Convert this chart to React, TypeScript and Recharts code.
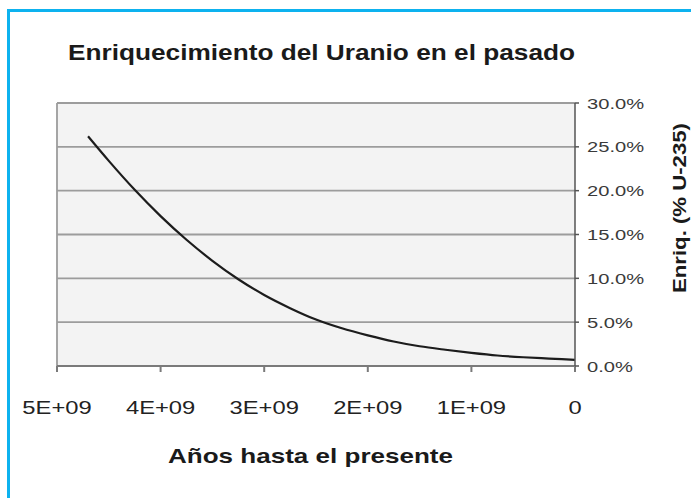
import React from "react"
import {
  LineChart,
  Line,
  XAxis,
  YAxis,
  CartesianGrid,
  ReferenceLine,
} from "recharts"

// años hasta el presente (en miles de millones) y enriquecimiento (% U-235)
const yearsAgo = [4.7, 4.5, 4.25, 4.0, 3.75, 3.5, 3.25, 3.0, 2.75, 2.5, 2.25, 2.0, 1.75, 1.5, 1.25, 1.0, 0.75, 0.5, 0.25, 0]
const enrichment = [26.2, 23.4, 20.1, 17.1, 14.4, 12.0, 9.9, 8.1, 6.6, 5.3, 4.3, 3.5, 2.8, 2.25, 1.85, 1.5, 1.2, 1.0, 0.85, 0.7]

const xTicks = [5e9, 4e9, 3e9, 2e9, 1e9, 0]
const xTickLabels = ["5E+09", "4E+09", "3E+09", "2E+09", "1E+09", "0"]
const yTicks = [0, 5, 10, 15, 20, 25, 30]

const title = "Enriquecimiento del Uranio en el pasado"
const xTitle = "Años hasta el presente"
const yTitle = "Enriq. (% U-235)"

const data = yearsAgo.map((y, i) => ({ years: y * 1e9, enr: enrichment[i] }))

const FONT = "'Liberation Sans', Arial, Helvetica, sans-serif"

function XTick(props: any) {
  const { x, y, payload } = props
  const idx = xTicks.indexOf(payload.value)
  return (
    <g transform={`translate(${x},${y}) scale(1.25,1)`}>
      <text x={0} y={0} dy={42} textAnchor="middle" fontSize={19} fill="#222" fontFamily={FONT}>
        {idx >= 0 ? xTickLabels[idx] : payload.value}
      </text>
    </g>
  )
}

function YTick(props: any) {
  const { x, y, payload } = props
  return (
    <g transform={`translate(${x + 8},${y}) scale(1.3,1)`}>
      <text x={0} y={0} dy="0.36em" textAnchor="start" fontSize={15.5} fill="#3a3a3a" fontFamily={FONT}>
        {`${payload.value.toFixed(1)}%`}
      </text>
    </g>
  )
}

export default function App() {
  return (
    <div style={{ position: "absolute", left: 0, top: 0, width: 691, height: 498, background: "#fff", overflow: "hidden" }}>
      <div
        style={{
          position: "absolute",
          left: 7,
          top: 9,
          width: 720,
          height: 520,
          borderLeft: "3px solid #0db2ef",
          borderTop: "3px solid #0db2ef",
        }}
      />
      <div style={{ position: "absolute", left: 0, top: 0 }}>
        <LineChart width={691} height={498} data={data} margin={{ top: 103, right: 56, bottom: 92, left: 57 }}>
          <CartesianGrid vertical={false} fill="#f3f3f3" stroke="#9c9c9c" strokeWidth={1.8} />
          <XAxis
            dataKey="years"
            type="number"
            domain={[0, 5e9]}
            reversed
            ticks={xTicks}
            tick={<XTick />}
            tickSize={6}
            tickMargin={0}
            height={40}
            stroke="#7a7a7a"
            strokeWidth={2}
            interval={0}
          />
          <YAxis
            orientation="right"
            domain={[0, 30]}
            ticks={yTicks}
            tick={<YTick />}
            tickSize={4}
            tickMargin={0}
            width={60}
            stroke="#555"
            strokeWidth={1.5}
            interval={0}
          />
          <ReferenceLine x={5e9} stroke="#9c9c9c" strokeWidth={1.8} />
          <Line
            type="monotone"
            dataKey="enr"
            stroke="#1c1c1c"
            strokeWidth={2.2}
            dot={false}
            isAnimationActive={false}
          />
        </LineChart>
      </div>
      <svg width={691} height={498} style={{ position: "absolute", left: 0, top: 0, pointerEvents: "none" }}>
        <text x={68} y={60} textLength={507} lengthAdjust="spacingAndGlyphs" fontSize={21.5} fontWeight="bold" fill="#1a1a1a" fontFamily={FONT}>
          {title}
        </text>
        <text x={168} y={463} textLength={285} lengthAdjust="spacingAndGlyphs" fontSize={20.5} fontWeight="bold" fill="#1a1a1a" fontFamily={FONT}>
          {xTitle}
        </text>
        <text
          transform="translate(686,208) rotate(-90)"
          textAnchor="middle"
          textLength={170}
          lengthAdjust="spacingAndGlyphs"
          fontSize={18}
          fontWeight="bold"
          fill="#1a1a1a"
          fontFamily={FONT}
        >
          {yTitle}
        </text>
      </svg>
    </div>
  )
}
